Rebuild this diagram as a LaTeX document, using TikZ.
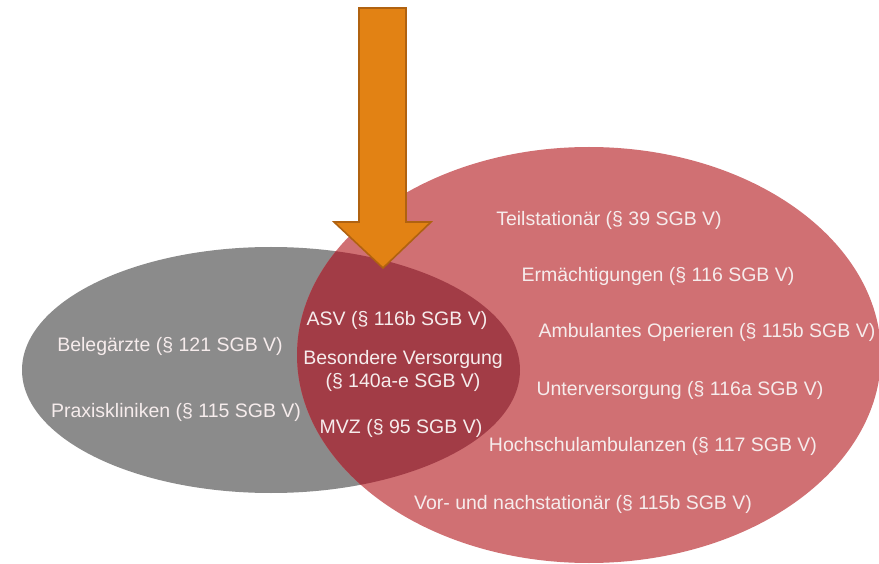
\documentclass[tikz,border=0pt]{standalone}
\usepackage{fontspec}
\setmainfont{Liberation Sans}
\definecolor{ambgray}{RGB}{139,139,139}
\definecolor{statred}{RGB}{208,112,115}
\definecolor{overlapred}{RGB}{162,60,70}
\definecolor{arroworange}{RGB}{226,130,20}
\definecolor{arrowedge}{RGB}{176,98,16}
\definecolor{labeltext}{RGB}{246,236,236}
\tikzset{
    x=1pt,
    y=-1pt,
    item/.style={text=labeltext, font=\fontsize{19.5}{23}\selectfont, align=center, inner sep=0pt},
    bigarrow/.style={fill=arroworange, draw=arrowedge, line width=1.6pt, line join=miter},
}
\begin{document}
\begin{tikzpicture}
    \useasboundingbox (0,0) rectangle (879,564);

    % sets
    \fill[ambgray] (271,370) ellipse [x radius=249pt, y radius=123pt];
    \fill[statred] (589,355) ellipse [x radius=292pt, y radius=208pt];
    \begin{scope}
        \clip (271,370) ellipse [x radius=249pt, y radius=123pt];
        \fill[overlapred] (589,355) ellipse [x radius=292pt, y radius=208pt];
    \end{scope}

    % arrow
    \draw[bigarrow] (359,8) -- (406,8) -- (406,222) -- (431,222) -- (383,268)
        -- (334,222) -- (359,222) -- cycle;

    % ambulant
    \node[item] (beleg) at (170,346) {Belegärzte (§ 121 SGB V)};
    \node[item] (praxis) at (176,412) {Praxiskliniken (§ 115 SGB V)};

    % overlap
    \node[item] (asv) at (397,320) {ASV (§ 116b SGB V)};
    \node[item] (besond) at (403,371) {Besondere Versorgung\\(§ 140a-e SGB V)};
    \node[item] (mvz) at (401,428) {MVZ (§ 95 SGB V)};

    % stationaer
    \node[item] (teil) at (609,220) {Teilstationär (§ 39 SGB V)};
    \node[item] (ermaecht) at (658,276) {Ermächtigungen (§ 116 SGB V)};
    \node[item] (ambop) at (707,332) {Ambulantes Operieren (§ 115b SGB V)};
    \node[item] (unterv) at (680,390) {Unterversorgung (§ 116a SGB V)};
    \node[item] (hochsch) at (653,446) {Hochschulambulanzen (§ 117 SGB V)};
    \node[item] (vornach) at (583,504) {Vor- und nachstationär (§ 115b SGB V)};
\end{tikzpicture}
\end{document}
